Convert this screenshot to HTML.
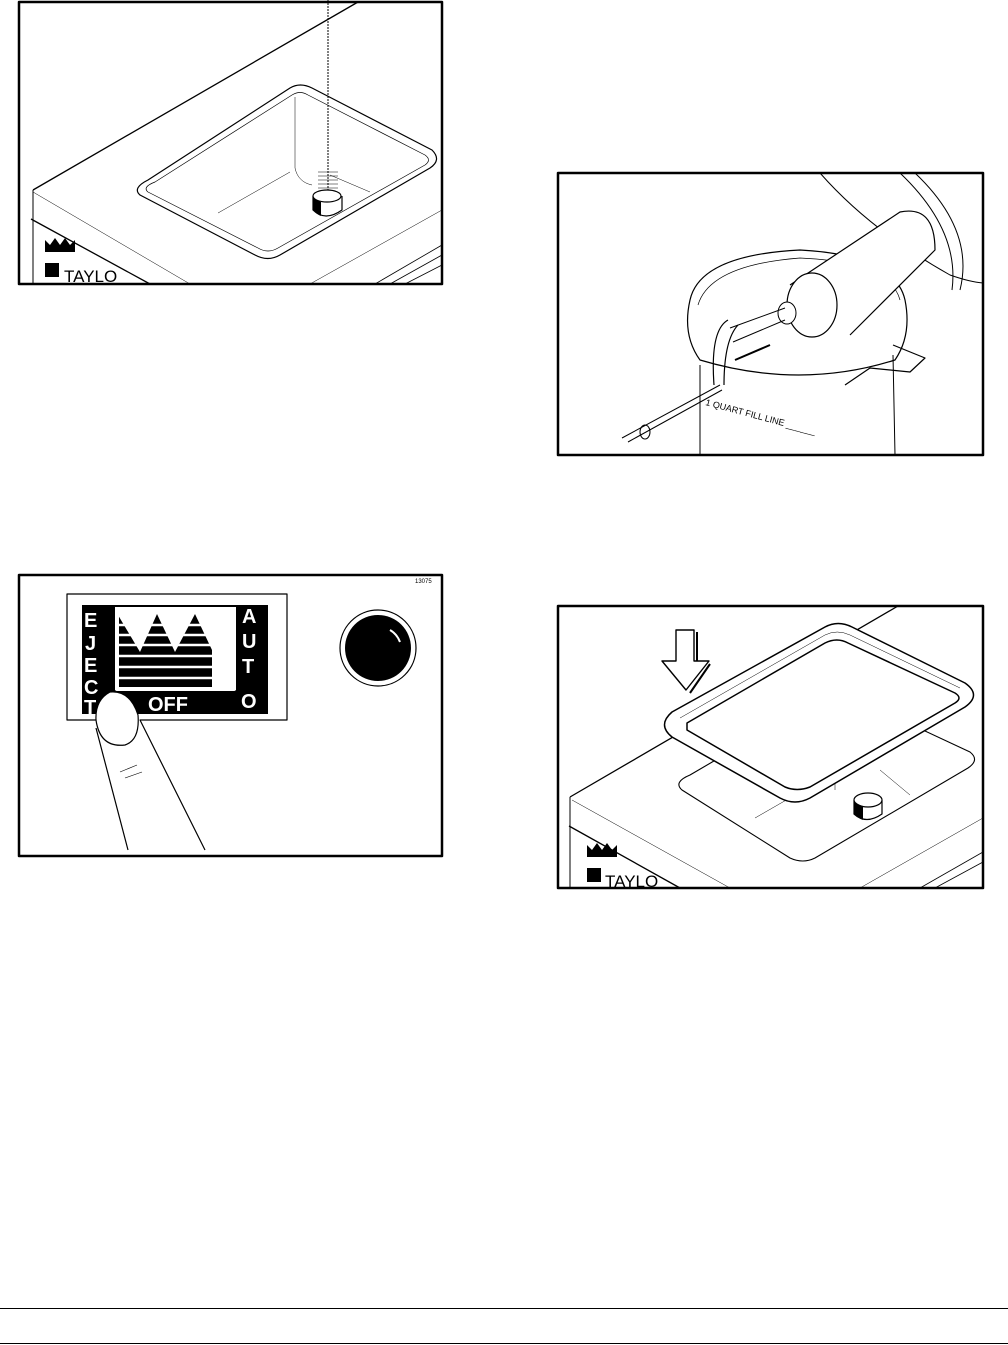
<!DOCTYPE html>
<html><head><meta charset="utf-8"><style>
html,body{margin:0;padding:0;background:#fff;}
svg{display:block;font-family:"Liberation Sans",sans-serif;}
</style></head><body>
<svg width="1008" height="1345" viewBox="0 0 1008 1345" xmlns="http://www.w3.org/2000/svg">
<g fill="none" stroke="#000" stroke-linejoin="round">
<!-- Box 1 -->
<rect x="19" y="2" width="423" height="282" stroke-width="2.5"/>
<path d="M33 190 L358 2" stroke-width="1.3"/>
<path d="M33 190 L33 284" stroke-width="1"/>
<path d="M33 192 L190 284" stroke-width="0.5"/>
<path d="M31 219 L150 284" stroke-width="1.3"/>
<path d="M310 284 L442 210" stroke-width="0.5"/>
<path d="M375 284 L442 245 M390 284 L442 255 M405 284 L442 265" stroke-width="0.8"/>
<path d="M148 180 L290 88 Q300 82 312 88 L432 150 Q442 160 430 168 L280 255 Q268 262 255 255 L140 195 Q132 188 148 180Z" stroke-width="1.2"/>
<path d="M155 182 L292 95 Q300 90 308 95 L425 155 Q432 160 425 165 L278 248 Q268 254 258 248 L148 192 Q142 187 155 182Z" stroke-width="0.7"/>
<path d="M218 213 L290 172 M295 97 L295 168 Q298 182 312 185 M330 175 L370 192" stroke-width="0.5"/>
<path d="M328 0 L328 190" stroke-width="1" stroke-dasharray="2 1"/>
<path d="M318 172 L338 172 M318 176 L338 176 M318 180 L338 180 M318 184 L338 184 M318 188 L338 188 M318 192 L338 192" stroke-width="0.6"/>
<path d="M313 196 L313 210 Q325 222 342 210 L342 196" stroke-width="1.2" fill="#fff"/>
<ellipse cx="327" cy="196" rx="14" ry="6" stroke-width="1.2" fill="#fff"/>
<path d="M313 196 L313 210 Q316 214 321 216 L321 202 Q315 200 313 196Z" fill="#000" stroke="none"/>
<path d="M45 248 L45 240 L50 245 L55 238 L60 245 L65 238 L70 245 L75 240 L75 252 L45 252Z" fill="#000" stroke="none"/>
<rect x="45" y="263" width="14" height="14" fill="#000" stroke="none"/>
<text x="64" y="282" font-size="17" fill="#000" stroke="none">TAYLO</text>

<!-- Box 2 -->
<rect x="558" y="173" width="425" height="282" stroke-width="2.5"/>
<path d="M820 173 Q870 230 950 275 Q970 282 983 283" stroke-width="1"/>
<path d="M900 173 Q960 230 952 290 M915 173 Q975 230 960 290" stroke-width="1"/>
<path d="M690 300 Q700 255 800 250 Q895 255 905 300 Q912 335 895 360 Q800 390 700 360 Q682 335 690 300Z" stroke-width="1.2"/>
<path d="M698 305 Q710 265 800 258 Q890 262 900 300" stroke-width="0.7"/>
<path d="M700 365 L700 455 M893 355 L895 455" stroke-width="1"/>
<path d="M893 345 L925 358 L910 372 L870 368 L845 385" stroke-width="1.2"/>
<path d="M790 285 L900 212 Q935 205 935 250 L850 335" stroke-width="1.2" fill="#fff"/>
<ellipse cx="812" cy="305" rx="25" ry="32" stroke-width="1.2" fill="#fff"/>
<ellipse cx="787" cy="313" rx="9" ry="11" stroke-width="1" fill="#fff"/>
<path d="M730 328 L785 308 M733 342 L785 320" stroke-width="1"/>
<path d="M728 320 Q710 330 714 385 M738 325 Q724 340 724 385" stroke-width="1.2"/>
<path d="M622 438 L720 385 M628 442 L722 390" stroke-width="1"/>
<ellipse cx="645" cy="432" rx="5" ry="7" stroke-width="1"/>
<path d="M735 360 L770 345" stroke-width="2"/>
<text x="705" y="405" font-size="9" fill="#000" stroke="none" transform="rotate(15 705 405)">1 QUART FILL LINE ______</text>

<!-- Box 3 -->
<rect x="19" y="575" width="423" height="281" stroke-width="2.5"/>
<text x="415" y="583" font-size="6" fill="#000" stroke="none">13075</text>
<rect x="67" y="594" width="220" height="126" stroke-width="1.2"/>
<rect x="82" y="605" width="186" height="109" fill="#000" stroke="none"/>
<rect x="115" y="607" width="121" height="83" fill="#fff" stroke="none"/>
<g stroke="none" fill="#000">
<path d="M118 615 L140 652 L157 614 L175 652 L195 614 L212 650 L212 690 L118 690Z"/>
</g>
<g stroke="#fff" stroke-width="2.5">
<path d="M115 625 L232 625 M115 635 L232 635 M115 645 L232 645 M115 656 L232 656 M115 667 L232 667 M115 678 L232 678"/>
</g>
<path d="M117 612 L117 689 L234 689 L234 612" stroke="#fff" stroke-width="4"/>
<g fill="#fff" stroke="none" font-weight="bold" font-size="20">
<text x="84" y="627">E</text><text x="85" y="650">J</text><text x="84" y="672">E</text><text x="84" y="694">C</text><text x="84" y="714">T</text>
<text x="242" y="623">A</text><text x="242" y="648">U</text><text x="242" y="673">T</text><text x="241" y="708">O</text>
<text x="148" y="711">OFF</text>
</g>
<path d="M96 730 Q95 700 110 692 L140 720 L203 848 L129 848Z" fill="#fff" stroke="none"/>
<path d="M96 728 L128 850 M140 720 L205 850" stroke-width="1.2"/>
<path d="M96 720 Q100 748 125 745 Q140 740 138 715 Q130 690 110 692 Q95 700 96 720Z" stroke-width="1.2" fill="#fff"/>
<path d="M120 772 L137 765 M125 778 L142 772" stroke-width="0.6"/>
<circle cx="378" cy="648" r="38" stroke-width="1.2"/>
<circle cx="378" cy="648" r="33" fill="#000" stroke="none"/>
<path d="M390 630 Q397 634 400 642" stroke="#fff" stroke-width="2"/>

<!-- Box 4 -->
<rect x="558" y="606" width="425" height="282" stroke-width="2.5"/>
<path d="M570 797 L898 606" stroke-width="1.3"/>
<path d="M570 797 L570 888" stroke-width="1"/>
<path d="M572 800 L730 888" stroke-width="0.5"/>
<path d="M569 826 L680 888" stroke-width="1.3"/>
<path d="M860 888 L983 818" stroke-width="0.5"/>
<path d="M920 888 L983 852 M935 888 L983 862" stroke-width="0.8"/>
<path d="M690 775 L825 696 Q838 690 850 696 L970 752 Q980 760 968 768 L815 858 Q803 864 790 858 L682 790 Q673 782 690 775Z" stroke-width="1.1" fill="#fff"/>
<path d="M755 818 L835 772 M835 705 L835 790 M870 705 L870 760 M880 770 L910 795" stroke-width="0.5"/>
<path d="M854 800 L854 814 Q866 825 882 814 L882 800" stroke-width="1.2" fill="#fff"/>
<ellipse cx="868" cy="800" rx="14" ry="7" stroke-width="1.2" fill="#fff"/>
<path d="M854 800 L854 814 Q858 818 863 820 L863 806 Q856 804 854 800Z" fill="#000" stroke="none"/>
<path d="M672 712 L825 627 Q838 620 852 627 L965 683 Q982 695 965 707 L810 798 Q795 806 780 798 L672 737 Q657 725 672 712Z" stroke-width="1.5" fill="#fff"/>
<path d="M687 723 L825 643 Q837 637 848 643 L955 693 Q963 698 955 703 L810 787 Q797 792 785 787 L687 730Z" stroke-width="1.5" fill="#fff"/>
<path d="M680 718 L825 635 Q837 629 850 635 L960 688" stroke-width="0.5"/>
<path d="M676 630 L676 661 L662 661 L686 690 L709 661 L694 661 L694 630 Z" stroke-width="1.4" fill="#fff"/>
<path d="M697 632 L697 661 M710 664 L690 693" stroke-width="2"/>
<path d="M587 853 L587 845 L592 850 L597 843 L602 850 L607 843 L612 850 L617 845 L617 857 L587 857Z" fill="#000" stroke="none"/>
<rect x="587" y="868" width="14" height="14" fill="#000" stroke="none"/>
<text x="605" y="887" font-size="17" fill="#000" stroke="none">TAYLO</text>

<!-- bottom lines -->
<path d="M0 1308.5 L1008 1308.5 M0 1343.5 L1008 1343.5" stroke-width="1"/>
</g>
</svg>
</body></html>
